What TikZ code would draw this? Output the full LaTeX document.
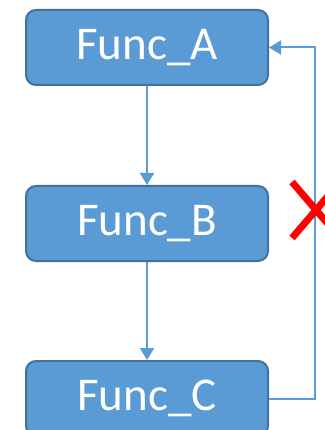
\documentclass[tikz,border=0pt]{standalone}
\usepackage{fontspec}
\setmainfont{Carlito}
\usetikzlibrary{positioning,arrows.meta}
\definecolor{funcfill}{HTML}{5B9BD5}
\definecolor{funcline}{HTML}{41719C}
\tikzset{
  funcbox/.style={draw=funcline,line width=2pt,fill=funcfill,rounded corners=10pt,
    minimum width=242pt,minimum height=75pt,text=white,
    font=\fontsize{47}{50}\selectfont},
  link/.style={draw=funcfill,line width=2pt,-{Triangle[length=12pt,width=14pt]}}
}
\begin{document}
\begin{tikzpicture}[x=1pt,y=1pt]
        \useasboundingbox (0,0) rectangle (324,-430);
        \node[funcbox] (fa) at (147,-47.5) {Func\_A};
        \node[funcbox,below=99pt of fa] (fb) {Func\_B};
        \node[funcbox,below=98pt of fb] (fc) {Func\_C};
        \coordinate (back) at (315,0);
        \draw[link] (fa) -- (fb);
        \draw[link] (fb) -- (fc);
        \draw[link] (fc.east) -- (fc.east -| back) -- (fa.east -| back) -- (fa.east);
        \coordinate (cross) at (316,-210);
        \draw[red,line width=7pt] ([shift={(-24,28)}]cross) -- ([shift={(24,-28)}]cross)
                                 ([shift={(-24,-28)}]cross) -- ([shift={(24,28)}]cross);
    \end{tikzpicture}
\end{document}
